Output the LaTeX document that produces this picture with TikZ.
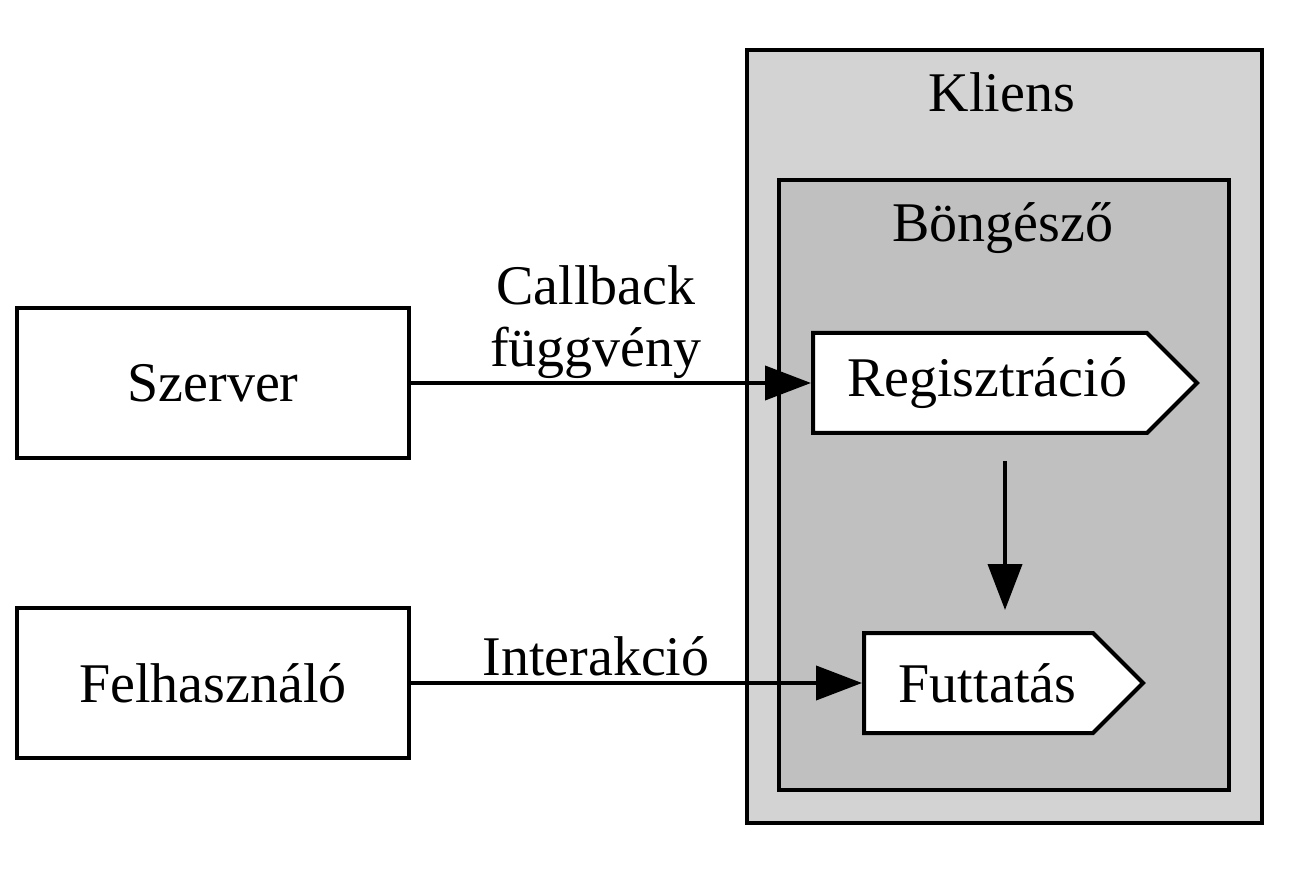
\documentclass[tikz,border=0pt]{standalone}
\usepackage{fontspec}
\setmainfont{Liberation Serif}
\usetikzlibrary{arrows.meta,shapes.symbols}
\definecolor{klfill}{HTML}{D3D3D3}
\definecolor{brfill}{HTML}{C0C0C0}
\begin{document}
\begin{tikzpicture}[x=0.25pt,y=-0.25pt,
  every node/.style={font=\fontsize{14pt}{15.5pt}\selectfont},
  cluster/.style={draw, line width=1pt, rectangle, inner sep=0pt},
  box/.style={draw, line width=1pt, rectangle, inner sep=0pt, minimum width=98pt, minimum height=37.5pt},
  cds/.style={draw, fill=white, line width=1pt, signal, signal to=east, signal pointer angle=90,
    inner xsep=0pt, inner ysep=0pt, minimum height=25pt, align=center},
  lbl/.style={inner sep=0pt, align=center},
  arr/.style={line width=1pt, -{Triangle[length=11.5pt,width=8.5pt]}}
]
\path[use as bounding box] (0,0) rectangle (1312,875);

\node[cluster, fill=klfill, minimum width=128.75pt, minimum height=193.25pt] (kliens) at (1004.5,436.5) {};
\node[lbl, anchor=base] (kliensl) at (1002,112) {Kliens};
\node[cluster, fill=brfill, minimum width=112.5pt, minimum height=152.5pt] (bong) at (1004,485) {};
\node[lbl, anchor=base] (bongl) at (1003,242) {Böngésző};

\node[box] (szerver) at (213,383) {Szerver};
\node[box] (felh) at (213,683) {Felhasználó};

\node[cds, text width=83.5pt] (reg) at (980,383) {\hspace*{3.5pt}Regisztráció};
\node[cds, text width=57.25pt] (fut) at (978.5,683) {\hspace*{4.5pt}Futtatás};

\draw[arr] (szerver.east) -- (reg.west);
\draw[arr] (felh.east) -- (fut.west);
\draw[arr, shorten <=6.5pt, shorten >=5.25pt] ([xshift=6.25pt]reg.south) -- ([xshift=6.25pt]reg.south |- fut.north);

\node[lbl, anchor=base] (cbl) at (596,367) {Callback\\függvény};
\node[lbl, anchor=base] (intl) at (596,675) {Interakció};
\end{tikzpicture}
\end{document}
